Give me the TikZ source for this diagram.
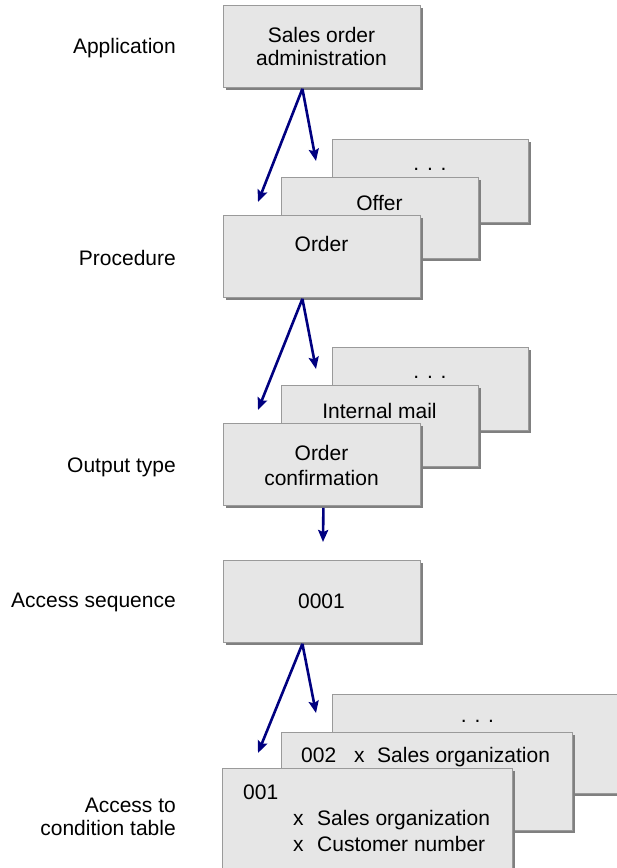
\documentclass[tikz,border=0pt]{standalone}
\usepackage{fontspec}
\setmainfont{Liberation Sans}
\usetikzlibrary{shadows,arrows.meta}
\definecolor{boxfill}{HTML}{E6E6E6}
\definecolor{boxline}{HTML}{9A9A9A}
\definecolor{shadegray}{HTML}{808080}
\definecolor{navyblue}{HTML}{000080}
\begin{document}
\begin{tikzpicture}[x=1pt,y=-1pt,
  box/.style={draw=boxline, line width=0.8pt, fill=boxfill, rectangle, inner sep=0pt,
    anchor=north west,
    drop shadow={shadow xshift=3pt, shadow yshift=-3pt, fill=shadegray, opacity=1}},
  txt/.style={font=\fontsize{21}{24}\selectfont, inner sep=0pt},
  lab/.style={txt, anchor=base east},
  arr/.style={draw=navyblue, line width=2.6pt, -{Stealth[length=12pt,width=10pt,inset=2pt]}}]
\useasboundingbox (0,0) rectangle (617,868);
\clip (0,0) rectangle (617,868);

% labels
\node[lab] (lapp) at (176,53) {Application};
\node[lab] (lproc) at (176,265) {Procedure};
\node[lab] (lout) at (176,472) {Output type};
\node[lab] (lacc) at (176,607) {Access sequence};
\node[txt, anchor=north east, align=right, font=\fontsize{21}{23}\selectfont] (lcond) at (176,798) {Access to\\condition table};

% application
\node[box, minimum width=197pt, minimum height=82pt] (app) at (223,5) {};
\node[txt, anchor=north, align=center, font=\fontsize{21}{23}\selectfont] (appt) at (321.5,27) {Sales order\\administration};

% procedure group
\node[box, minimum width=196pt, minimum height=83pt] (pdots) at (332,139) {};
\node[txt, anchor=base] (pdotst) at (430,170) {. . .};
\node[box, minimum width=197pt, minimum height=81pt] (offer) at (281,177) {};
\node[txt, anchor=base] (offert) at (379.5,210) {Offer};
\node[box, minimum width=197pt, minimum height=82pt] (order) at (223,215) {};
\node[txt, anchor=base] (ordert) at (321.5,251) {Order};

% output type group
\node[box, minimum width=196pt, minimum height=83pt] (odots) at (332,347) {};
\node[txt, anchor=base] (odotst) at (430,378) {. . .};
\node[box, minimum width=197pt, minimum height=81pt] (imail) at (281,385) {};
\node[txt, anchor=base] (imailt) at (379.5,418) {Internal mail};
\node[box, minimum width=197pt, minimum height=82pt] (ocf) at (223,423) {};
\node[txt, anchor=north, align=center, font=\fontsize{21}{25}\selectfont] (ocft) at (321.5,445) {Order\\confirmation};

% access sequence
\node[box, minimum width=197pt, minimum height=82pt] (acc) at (223,560) {};
\node[txt, anchor=base] (acct) at (321.5,608) {0001};

% condition tables
\node[box, minimum width=291pt, minimum height=99pt] (cdots) at (332,694) {};
\node[txt, anchor=base] (cdotst) at (477.5,722) {. . .};
\node[box, minimum width=291pt, minimum height=98pt] (c002) at (281,732) {};
\node[txt, anchor=base west] (c002t) at (301,762) {\makebox[53pt][l]{002}\makebox[23pt][l]{x}Sales organization};
\node[box, minimum width=290pt, minimum height=104pt] (c001) at (222,768) {};
\node[txt, anchor=north west, align=left, font=\fontsize{21}{26}\selectfont] (c001t) at (243,785)
  {001\\\hspace*{50pt}\makebox[24pt][l]{x}Sales organization\\\hspace*{50pt}\makebox[24pt][l]{x}Customer number};

% arrows
\coordinate (e1l) at (258,202);
\coordinate (e1r) at (316,161);
\draw[arr] ([xshift=-19.5pt,yshift=-1pt]app.south) -- (e1l);
\draw[arr] ([xshift=-19.5pt,yshift=-1pt]app.south) -- (e1r);
\coordinate (e2l) at (258,410);
\coordinate (e2r) at (316,369);
\draw[arr] ([xshift=-19.5pt,yshift=-1pt]order.south) -- (e2l);
\draw[arr] ([xshift=-19.5pt,yshift=-1pt]order.south) -- (e2r);
\coordinate (e3) at (323,542);
\draw[arr] ([xshift=1.5pt,yshift=-2pt]ocf.south) -- (e3);
\coordinate (e4l) at (258,753);
\coordinate (e4r) at (316,713);
\draw[arr] ([xshift=-19.5pt,yshift=-1pt]acc.south) -- (e4l);
\draw[arr] ([xshift=-19.5pt,yshift=-1pt]acc.south) -- (e4r);
\end{tikzpicture}
\end{document}
